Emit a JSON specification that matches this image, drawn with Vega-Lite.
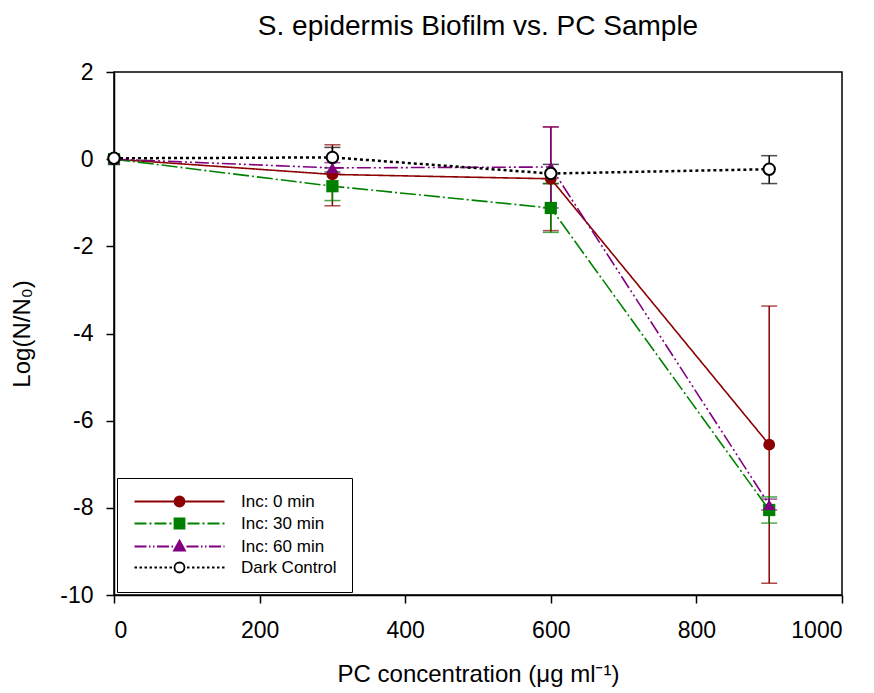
{
  "$schema": "https://vega.github.io/schema/vega-lite/v6.json",
  "width": 728,
  "height": 523,
  "autosize": "none",
  "padding": {"left": 114, "top": 72, "right": 32, "bottom": 98},
  "background": "white",
  "title": {"text": "S. epidermis Biofilm vs. PC Sample", "fontSize": 28, "fontWeight": "normal", "font": "Liberation Sans", "color": "black", "offset": 20},
  "config": {
    "font": "Liberation Sans",
    "view": {"stroke": "black", "strokeWidth": 1.5},
    "axis": {"grid": false, "domainColor": "black", "domainWidth": 1.5, "tickColor": "black", "tickWidth": 1.5, "tickSize": 8, "labelColor": "black", "titleColor": "black", "labelFontSize": 23, "titleFontSize": 24, "titleFontWeight": "normal", "labelFont": "Liberation Sans", "titleFont": "Liberation Sans", "labelExpr": "'' + datum.value"}
  },
  "data": {"values": [
    {"series": "Inc: 0 min", "x": 0, "y": 0, "lo": 0, "hi": 0},
    {"series": "Inc: 0 min", "x": 300, "y": -0.35, "lo": -1.07, "hi": 0.33},
    {"series": "Inc: 0 min", "x": 600, "y": -0.45, "lo": -1.64, "hi": 0.74},
    {"series": "Inc: 0 min", "x": 900, "y": -6.55, "lo": -9.73, "hi": -3.37},
    {"series": "Inc: 30 min", "x": 0, "y": 0, "lo": 0, "hi": 0},
    {"series": "Inc: 30 min", "x": 300, "y": -0.62, "lo": -0.95, "hi": -0.29},
    {"series": "Inc: 30 min", "x": 600, "y": -1.12, "lo": -1.68, "hi": -0.56},
    {"series": "Inc: 30 min", "x": 900, "y": -8.05, "lo": -8.35, "hi": -7.75},
    {"series": "Inc: 60 min", "x": 0, "y": 0, "lo": 0, "hi": 0},
    {"series": "Inc: 60 min", "x": 300, "y": -0.2, "lo": -0.32, "hi": -0.08},
    {"series": "Inc: 60 min", "x": 600, "y": -0.18, "lo": -1.12, "hi": 0.74},
    {"series": "Inc: 60 min", "x": 900, "y": -7.93, "lo": -8.05, "hi": -7.8},
    {"series": "Dark Control", "x": 0, "y": 0.02, "lo": 0.02, "hi": 0.02},
    {"series": "Dark Control", "x": 300, "y": 0.04, "lo": -0.2, "hi": 0.27},
    {"series": "Dark Control", "x": 600, "y": -0.33, "lo": -0.56, "hi": -0.12},
    {"series": "Dark Control", "x": 900, "y": -0.23, "lo": -0.56, "hi": 0.08}
  ]},
  "encoding": {
    "x": {"field": "x", "type": "quantitative", "scale": {"domain": [0, 1000], "nice": false, "zero": false}, "axis": {"values": [0, 200, 400, 600, 800, 1000], "title": "PC concentration (μg ml⁻¹)", "labelPadding": 16, "titlePadding": 20}},
    "y": {"field": "y", "type": "quantitative", "scale": {"domain": [-10, 2], "nice": false, "zero": false}, "axis": {"values": [-10, -8, -6, -4, -2, 0, 2], "title": "Log(N/N₀)", "labelPadding": 13, "titlePadding": 25}}
  },
  "layer": [
    {
      "transform": [{"filter": "datum.x > 0"}],
      "mark": {"type": "rule", "strokeWidth": 1.5},
      "encoding": {
        "y": {"field": "lo", "type": "quantitative"},
        "y2": {"field": "hi"},
        "color": {"field": "series", "type": "nominal", "scale": {"domain": ["Dark Control", "Inc: 0 min", "Inc: 30 min", "Inc: 60 min"], "range": ["#000000", "#8B0000", "#008000", "#800080"]}, "legend": null}
      }
    },
    {
      "transform": [{"filter": "datum.x > 0"}],
      "mark": {"type": "tick", "orient": "horizontal", "size": 16, "thickness": 1.5},
      "encoding": {
        "y": {"field": "lo", "type": "quantitative"},
        "color": {"field": "series", "type": "nominal", "legend": null}
      }
    },
    {
      "transform": [{"filter": "datum.x > 0"}],
      "mark": {"type": "tick", "orient": "horizontal", "size": 16, "thickness": 1.5},
      "encoding": {
        "y": {"field": "hi", "type": "quantitative"},
        "color": {"field": "series", "type": "nominal", "legend": null}
      }
    },
    {
      "transform": [{"filter": "datum.series != 'Dark Control'"}],
      "mark": {"type": "line", "strokeWidth": 1.6},
      "encoding": {
        "color": {"field": "series", "type": "nominal", "legend": null},
        "strokeDash": {"field": "series", "type": "nominal", "scale": {"domain": ["Inc: 0 min", "Inc: 30 min", "Inc: 60 min"], "range": [[1, 0], [16, 3, 2, 3], [14, 3, 2, 3, 2, 3]]}, "legend": null}
      }
    },
    {
      "transform": [{"filter": "datum.series == 'Dark Control'"}],
      "mark": {"type": "line", "strokeWidth": 2.5, "color": "black", "strokeDash": [3, 3]},
      "encoding": {}
    },
    {
      "transform": [{"filter": "datum.series == 'Inc: 0 min'"}],
      "mark": {"type": "circle", "size": 140, "opacity": 1, "color": "#8B0000"},
      "encoding": {}
    },
    {
      "transform": [{"filter": "datum.series == 'Inc: 30 min'"}],
      "mark": {"type": "square", "size": 150, "opacity": 1, "color": "#008000"},
      "encoding": {}
    },
    {
      "transform": [{"filter": "datum.series == 'Inc: 60 min'"}],
      "mark": {"type": "point", "shape": "triangle-up", "filled": true, "size": 150, "opacity": 1, "color": "#800080"},
      "encoding": {}
    },
    {
      "transform": [{"filter": "datum.series == 'Dark Control'"}],
      "mark": {"type": "point", "shape": "circle", "filled": false, "size": 130, "opacity": 1, "fill": "white", "stroke": "black", "strokeWidth": 2},
      "encoding": {}
    },
    {
      "transform": [{"filter": "false"}],
      "mark": {"type": "point", "filled": false, "opacity": 1},
      "encoding": {
        "shape": {"field": "series", "type": "nominal", "scale": {"domain": ["Inc: 0 min", "Inc: 30 min", "Inc: 60 min", "Dark Control"], "range": [
          "M-1.2,0H6.8M8.8,0H16.8M6.8,0A1,1,0,1,0,8.8,0A1,1,0,1,0,6.8,0Z",
          "M-1.2,0H1.2M1.8,0H2.2M2.8,0H5.2M5.8,0H6.2M9.4,0H11.8M12.4,0H12.8M13.4,0H15.8M16.4,0H16.8M6.8,-1H8.8V1H6.8Z",
          "M-1.2,0H1.2M1.7,0H2M2.5,0H2.8M3.3,0H5.7M6.2,0H6.5M9.2,0H11.6M12.1,0H12.4M12.9,0H13.2M13.7,0H16.1M16.6,0H16.8M7.8,-1.2L8.9,0.8H6.7Z",
          "M-1.2,0H-0.7M-0.2,0H0.3M0.8,0H1.3M1.8,0H2.3M2.8,0H3.3M3.8,0H4.3M4.8,0H5.3M5.8,0H6.3M9.3,0H9.8M10.3,0H10.8M11.3,0H11.8M12.3,0H12.8M13.3,0H13.8M14.3,0H14.8M15.3,0H15.8M16.3,0H16.8M6.8,0A1,1,0,1,0,8.8,0A1,1,0,1,0,6.8,0Z"
        ]}, "legend": {"title": null, "orient": "bottom-left", "offset": 3, "padding": 15, "strokeColor": "black", "fillColor": "white", "symbolSize": 100, "symbolStrokeWidth": 1.8, "symbolOpacity": 1, "labelFontSize": 17, "labelFont": "Liberation Sans", "labelColor": "black", "labelOffset": 92, "rowPadding": 3}},
        "stroke": {"field": "series", "type": "nominal", "scale": {"domain": ["Inc: 0 min", "Inc: 30 min", "Inc: 60 min", "Dark Control"], "range": ["#8B0000", "#008000", "#800080", "#000000"]}},
        "fill": {"field": "series", "type": "nominal", "scale": {"domain": ["Inc: 0 min", "Inc: 30 min", "Inc: 60 min", "Dark Control"], "range": ["#8B0000", "#008000", "#800080", "#ffffff"]}}
      }
    }
  ]
}
